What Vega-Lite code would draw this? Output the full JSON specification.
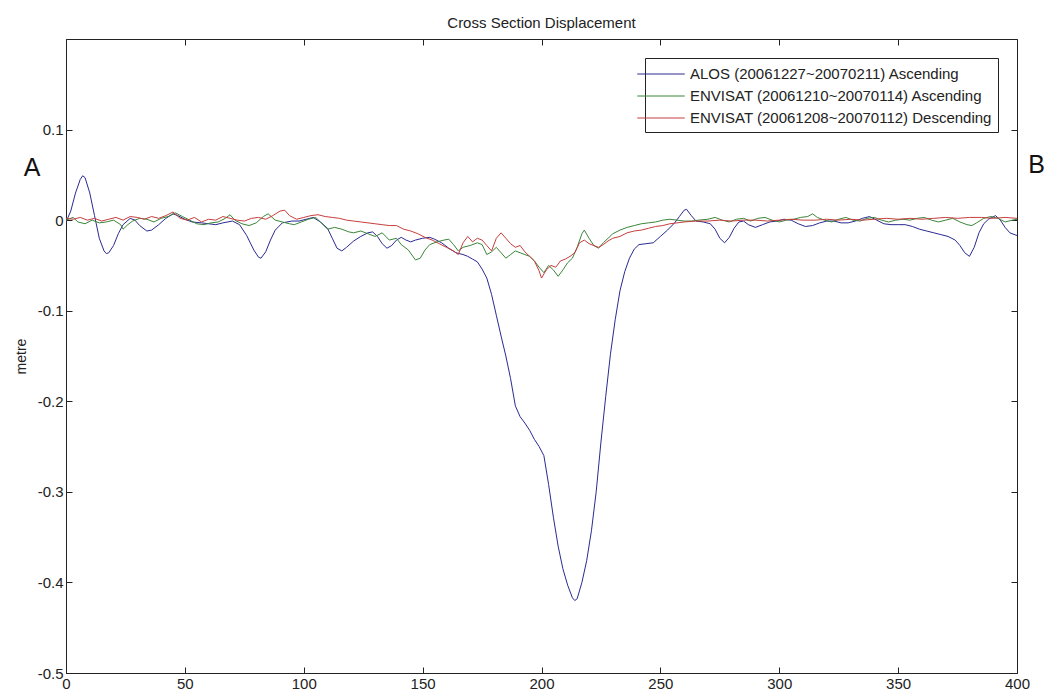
{
  "$schema": "https://vega.github.io/schema/vega-lite/v6.json",
  "width": 951,
  "height": 634,
  "autosize": {"type": "none"},
  "padding": {"left": 66, "top": 39, "right": 30, "bottom": 21},
  "background": "white",
  "title": {
    "text": "Cross Section Displacement",
    "font": "Liberation Sans",
    "fontSize": 15,
    "fontWeight": "normal",
    "color": "#222",
    "anchor": "middle",
    "offset": 8
  },
  "config": {
    "view": {"stroke": "#222", "strokeWidth": 1},
    "axis": {
      "labelFont": "Liberation Sans",
      "labelFontSize": 15,
      "labelColor": "#222",
      "titleFont": "Liberation Sans",
      "titleFontWeight": "normal",
      "titleColor": "#222",
      "tickColor": "#222",
      "tickWidth": 1,
      "domainColor": "#222",
      "grid": false
    }
  },
  "datasets": {
    "profiles": [
      {"series": "ALOS (20061227~20070211) Ascending", "x": 0, "y": -0.002},
      {"series": "ALOS (20061227~20070211) Ascending", "x": 2, "y": 0.01},
      {"series": "ALOS (20061227~20070211) Ascending", "x": 4, "y": 0.03},
      {"series": "ALOS (20061227~20070211) Ascending", "x": 6, "y": 0.045},
      {"series": "ALOS (20061227~20070211) Ascending", "x": 7, "y": 0.049},
      {"series": "ALOS (20061227~20070211) Ascending", "x": 8, "y": 0.047},
      {"series": "ALOS (20061227~20070211) Ascending", "x": 10, "y": 0.03},
      {"series": "ALOS (20061227~20070211) Ascending", "x": 12, "y": 0.005},
      {"series": "ALOS (20061227~20070211) Ascending", "x": 14, "y": -0.02},
      {"series": "ALOS (20061227~20070211) Ascending", "x": 16, "y": -0.034},
      {"series": "ALOS (20061227~20070211) Ascending", "x": 17, "y": -0.037},
      {"series": "ALOS (20061227~20070211) Ascending", "x": 18, "y": -0.036},
      {"series": "ALOS (20061227~20070211) Ascending", "x": 20, "y": -0.028},
      {"series": "ALOS (20061227~20070211) Ascending", "x": 22, "y": -0.015},
      {"series": "ALOS (20061227~20070211) Ascending", "x": 24, "y": -0.005},
      {"series": "ALOS (20061227~20070211) Ascending", "x": 27, "y": 0.002},
      {"series": "ALOS (20061227~20070211) Ascending", "x": 29, "y": 0.0},
      {"series": "ALOS (20061227~20070211) Ascending", "x": 31, "y": -0.006},
      {"series": "ALOS (20061227~20070211) Ascending", "x": 34, "y": -0.012},
      {"series": "ALOS (20061227~20070211) Ascending", "x": 36, "y": -0.011},
      {"series": "ALOS (20061227~20070211) Ascending", "x": 39, "y": -0.005},
      {"series": "ALOS (20061227~20070211) Ascending", "x": 42, "y": 0.002},
      {"series": "ALOS (20061227~20070211) Ascending", "x": 45, "y": 0.007},
      {"series": "ALOS (20061227~20070211) Ascending", "x": 47, "y": 0.005},
      {"series": "ALOS (20061227~20070211) Ascending", "x": 50, "y": 0.001},
      {"series": "ALOS (20061227~20070211) Ascending", "x": 53, "y": -0.002},
      {"series": "ALOS (20061227~20070211) Ascending", "x": 57, "y": -0.003},
      {"series": "ALOS (20061227~20070211) Ascending", "x": 60, "y": -0.004},
      {"series": "ALOS (20061227~20070211) Ascending", "x": 63, "y": -0.005},
      {"series": "ALOS (20061227~20070211) Ascending", "x": 66, "y": -0.003},
      {"series": "ALOS (20061227~20070211) Ascending", "x": 70, "y": -0.001},
      {"series": "ALOS (20061227~20070211) Ascending", "x": 73, "y": -0.005},
      {"series": "ALOS (20061227~20070211) Ascending", "x": 76, "y": -0.017},
      {"series": "ALOS (20061227~20070211) Ascending", "x": 79, "y": -0.033},
      {"series": "ALOS (20061227~20070211) Ascending", "x": 81, "y": -0.041},
      {"series": "ALOS (20061227~20070211) Ascending", "x": 82, "y": -0.042},
      {"series": "ALOS (20061227~20070211) Ascending", "x": 84, "y": -0.035},
      {"series": "ALOS (20061227~20070211) Ascending", "x": 86, "y": -0.022},
      {"series": "ALOS (20061227~20070211) Ascending", "x": 88, "y": -0.011},
      {"series": "ALOS (20061227~20070211) Ascending", "x": 91, "y": -0.003},
      {"series": "ALOS (20061227~20070211) Ascending", "x": 95, "y": -0.001},
      {"series": "ALOS (20061227~20070211) Ascending", "x": 98, "y": -0.001},
      {"series": "ALOS (20061227~20070211) Ascending", "x": 101, "y": 0.001},
      {"series": "ALOS (20061227~20070211) Ascending", "x": 104, "y": 0.003},
      {"series": "ALOS (20061227~20070211) Ascending", "x": 107, "y": -0.002},
      {"series": "ALOS (20061227~20070211) Ascending", "x": 110, "y": -0.009},
      {"series": "ALOS (20061227~20070211) Ascending", "x": 112, "y": -0.02},
      {"series": "ALOS (20061227~20070211) Ascending", "x": 114, "y": -0.031},
      {"series": "ALOS (20061227~20070211) Ascending", "x": 116, "y": -0.034},
      {"series": "ALOS (20061227~20070211) Ascending", "x": 118, "y": -0.03},
      {"series": "ALOS (20061227~20070211) Ascending", "x": 121, "y": -0.023},
      {"series": "ALOS (20061227~20070211) Ascending", "x": 124, "y": -0.018},
      {"series": "ALOS (20061227~20070211) Ascending", "x": 127, "y": -0.014},
      {"series": "ALOS (20061227~20070211) Ascending", "x": 129, "y": -0.013},
      {"series": "ALOS (20061227~20070211) Ascending", "x": 131, "y": -0.018},
      {"series": "ALOS (20061227~20070211) Ascending", "x": 133, "y": -0.026},
      {"series": "ALOS (20061227~20070211) Ascending", "x": 135, "y": -0.031},
      {"series": "ALOS (20061227~20070211) Ascending", "x": 137, "y": -0.028},
      {"series": "ALOS (20061227~20070211) Ascending", "x": 139, "y": -0.022},
      {"series": "ALOS (20061227~20070211) Ascending", "x": 141, "y": -0.019},
      {"series": "ALOS (20061227~20070211) Ascending", "x": 143, "y": -0.022},
      {"series": "ALOS (20061227~20070211) Ascending", "x": 145, "y": -0.024},
      {"series": "ALOS (20061227~20070211) Ascending", "x": 147, "y": -0.022},
      {"series": "ALOS (20061227~20070211) Ascending", "x": 150, "y": -0.02},
      {"series": "ALOS (20061227~20070211) Ascending", "x": 153, "y": -0.019},
      {"series": "ALOS (20061227~20070211) Ascending", "x": 155, "y": -0.021},
      {"series": "ALOS (20061227~20070211) Ascending", "x": 158, "y": -0.025},
      {"series": "ALOS (20061227~20070211) Ascending", "x": 161, "y": -0.031},
      {"series": "ALOS (20061227~20070211) Ascending", "x": 164, "y": -0.036},
      {"series": "ALOS (20061227~20070211) Ascending", "x": 167, "y": -0.038},
      {"series": "ALOS (20061227~20070211) Ascending", "x": 169, "y": -0.04},
      {"series": "ALOS (20061227~20070211) Ascending", "x": 171, "y": -0.043},
      {"series": "ALOS (20061227~20070211) Ascending", "x": 173, "y": -0.046},
      {"series": "ALOS (20061227~20070211) Ascending", "x": 175, "y": -0.054},
      {"series": "ALOS (20061227~20070211) Ascending", "x": 177, "y": -0.064},
      {"series": "ALOS (20061227~20070211) Ascending", "x": 179, "y": -0.082},
      {"series": "ALOS (20061227~20070211) Ascending", "x": 181, "y": -0.105},
      {"series": "ALOS (20061227~20070211) Ascending", "x": 183, "y": -0.128},
      {"series": "ALOS (20061227~20070211) Ascending", "x": 185, "y": -0.15},
      {"series": "ALOS (20061227~20070211) Ascending", "x": 187, "y": -0.175},
      {"series": "ALOS (20061227~20070211) Ascending", "x": 189, "y": -0.205},
      {"series": "ALOS (20061227~20070211) Ascending", "x": 191, "y": -0.217},
      {"series": "ALOS (20061227~20070211) Ascending", "x": 193, "y": -0.224},
      {"series": "ALOS (20061227~20070211) Ascending", "x": 195, "y": -0.232},
      {"series": "ALOS (20061227~20070211) Ascending", "x": 197, "y": -0.242},
      {"series": "ALOS (20061227~20070211) Ascending", "x": 199, "y": -0.25},
      {"series": "ALOS (20061227~20070211) Ascending", "x": 201, "y": -0.26},
      {"series": "ALOS (20061227~20070211) Ascending", "x": 203, "y": -0.292},
      {"series": "ALOS (20061227~20070211) Ascending", "x": 205, "y": -0.328},
      {"series": "ALOS (20061227~20070211) Ascending", "x": 207, "y": -0.36},
      {"series": "ALOS (20061227~20070211) Ascending", "x": 209, "y": -0.385},
      {"series": "ALOS (20061227~20070211) Ascending", "x": 211, "y": -0.403},
      {"series": "ALOS (20061227~20070211) Ascending", "x": 213, "y": -0.417},
      {"series": "ALOS (20061227~20070211) Ascending", "x": 214, "y": -0.42},
      {"series": "ALOS (20061227~20070211) Ascending", "x": 215, "y": -0.418},
      {"series": "ALOS (20061227~20070211) Ascending", "x": 217, "y": -0.4},
      {"series": "ALOS (20061227~20070211) Ascending", "x": 219, "y": -0.376},
      {"series": "ALOS (20061227~20070211) Ascending", "x": 221, "y": -0.343},
      {"series": "ALOS (20061227~20070211) Ascending", "x": 223, "y": -0.3},
      {"series": "ALOS (20061227~20070211) Ascending", "x": 225, "y": -0.245},
      {"series": "ALOS (20061227~20070211) Ascending", "x": 227, "y": -0.195},
      {"series": "ALOS (20061227~20070211) Ascending", "x": 229, "y": -0.148},
      {"series": "ALOS (20061227~20070211) Ascending", "x": 231, "y": -0.11},
      {"series": "ALOS (20061227~20070211) Ascending", "x": 233, "y": -0.078},
      {"series": "ALOS (20061227~20070211) Ascending", "x": 235, "y": -0.057},
      {"series": "ALOS (20061227~20070211) Ascending", "x": 237, "y": -0.042},
      {"series": "ALOS (20061227~20070211) Ascending", "x": 239, "y": -0.032},
      {"series": "ALOS (20061227~20070211) Ascending", "x": 241, "y": -0.027},
      {"series": "ALOS (20061227~20070211) Ascending", "x": 244, "y": -0.026},
      {"series": "ALOS (20061227~20070211) Ascending", "x": 247, "y": -0.025},
      {"series": "ALOS (20061227~20070211) Ascending", "x": 250, "y": -0.018},
      {"series": "ALOS (20061227~20070211) Ascending", "x": 253, "y": -0.011},
      {"series": "ALOS (20061227~20070211) Ascending", "x": 256, "y": -0.003},
      {"series": "ALOS (20061227~20070211) Ascending", "x": 258, "y": 0.004},
      {"series": "ALOS (20061227~20070211) Ascending", "x": 260, "y": 0.011},
      {"series": "ALOS (20061227~20070211) Ascending", "x": 261, "y": 0.012},
      {"series": "ALOS (20061227~20070211) Ascending", "x": 263, "y": 0.005},
      {"series": "ALOS (20061227~20070211) Ascending", "x": 265, "y": -0.001},
      {"series": "ALOS (20061227~20070211) Ascending", "x": 268, "y": -0.002},
      {"series": "ALOS (20061227~20070211) Ascending", "x": 271, "y": -0.004},
      {"series": "ALOS (20061227~20070211) Ascending", "x": 273, "y": -0.01},
      {"series": "ALOS (20061227~20070211) Ascending", "x": 275, "y": -0.02},
      {"series": "ALOS (20061227~20070211) Ascending", "x": 277, "y": -0.025},
      {"series": "ALOS (20061227~20070211) Ascending", "x": 279, "y": -0.019},
      {"series": "ALOS (20061227~20070211) Ascending", "x": 281, "y": -0.009},
      {"series": "ALOS (20061227~20070211) Ascending", "x": 283, "y": -0.002},
      {"series": "ALOS (20061227~20070211) Ascending", "x": 285, "y": -0.001},
      {"series": "ALOS (20061227~20070211) Ascending", "x": 287, "y": -0.005},
      {"series": "ALOS (20061227~20070211) Ascending", "x": 290, "y": -0.008},
      {"series": "ALOS (20061227~20070211) Ascending", "x": 293, "y": -0.005},
      {"series": "ALOS (20061227~20070211) Ascending", "x": 296, "y": -0.002},
      {"series": "ALOS (20061227~20070211) Ascending", "x": 299, "y": -0.001},
      {"series": "ALOS (20061227~20070211) Ascending", "x": 302, "y": 0.001},
      {"series": "ALOS (20061227~20070211) Ascending", "x": 305, "y": 0.0},
      {"series": "ALOS (20061227~20070211) Ascending", "x": 308, "y": -0.004},
      {"series": "ALOS (20061227~20070211) Ascending", "x": 311, "y": -0.007},
      {"series": "ALOS (20061227~20070211) Ascending", "x": 314, "y": -0.006},
      {"series": "ALOS (20061227~20070211) Ascending", "x": 317, "y": -0.003},
      {"series": "ALOS (20061227~20070211) Ascending", "x": 320, "y": -0.001},
      {"series": "ALOS (20061227~20070211) Ascending", "x": 323, "y": -0.001},
      {"series": "ALOS (20061227~20070211) Ascending", "x": 326, "y": -0.003},
      {"series": "ALOS (20061227~20070211) Ascending", "x": 329, "y": -0.003},
      {"series": "ALOS (20061227~20070211) Ascending", "x": 332, "y": -0.001},
      {"series": "ALOS (20061227~20070211) Ascending", "x": 335, "y": 0.002},
      {"series": "ALOS (20061227~20070211) Ascending", "x": 338, "y": 0.004},
      {"series": "ALOS (20061227~20070211) Ascending", "x": 341, "y": 0.0},
      {"series": "ALOS (20061227~20070211) Ascending", "x": 344, "y": -0.004},
      {"series": "ALOS (20061227~20070211) Ascending", "x": 347, "y": -0.005},
      {"series": "ALOS (20061227~20070211) Ascending", "x": 350, "y": -0.005},
      {"series": "ALOS (20061227~20070211) Ascending", "x": 353, "y": -0.005},
      {"series": "ALOS (20061227~20070211) Ascending", "x": 356, "y": -0.007},
      {"series": "ALOS (20061227~20070211) Ascending", "x": 359, "y": -0.01},
      {"series": "ALOS (20061227~20070211) Ascending", "x": 362, "y": -0.012},
      {"series": "ALOS (20061227~20070211) Ascending", "x": 365, "y": -0.014},
      {"series": "ALOS (20061227~20070211) Ascending", "x": 368, "y": -0.016},
      {"series": "ALOS (20061227~20070211) Ascending", "x": 371, "y": -0.018},
      {"series": "ALOS (20061227~20070211) Ascending", "x": 374, "y": -0.022},
      {"series": "ALOS (20061227~20070211) Ascending", "x": 376, "y": -0.028},
      {"series": "ALOS (20061227~20070211) Ascending", "x": 378, "y": -0.036},
      {"series": "ALOS (20061227~20070211) Ascending", "x": 380, "y": -0.04},
      {"series": "ALOS (20061227~20070211) Ascending", "x": 382, "y": -0.03},
      {"series": "ALOS (20061227~20070211) Ascending", "x": 384, "y": -0.014},
      {"series": "ALOS (20061227~20070211) Ascending", "x": 386, "y": -0.004},
      {"series": "ALOS (20061227~20070211) Ascending", "x": 388, "y": 0.001},
      {"series": "ALOS (20061227~20070211) Ascending", "x": 391, "y": 0.005},
      {"series": "ALOS (20061227~20070211) Ascending", "x": 393, "y": 0.0},
      {"series": "ALOS (20061227~20070211) Ascending", "x": 395, "y": -0.008},
      {"series": "ALOS (20061227~20070211) Ascending", "x": 397, "y": -0.014},
      {"series": "ALOS (20061227~20070211) Ascending", "x": 400, "y": -0.017},

      {"series": "ENVISAT (20061210~20070114) Ascending", "x": 0, "y": 0.0},
      {"series": "ENVISAT (20061210~20070114) Ascending", "x": 3, "y": 0.003},
      {"series": "ENVISAT (20061210~20070114) Ascending", "x": 5, "y": -0.002},
      {"series": "ENVISAT (20061210~20070114) Ascending", "x": 8, "y": -0.004},
      {"series": "ENVISAT (20061210~20070114) Ascending", "x": 11, "y": 0.0},
      {"series": "ENVISAT (20061210~20070114) Ascending", "x": 14, "y": -0.003},
      {"series": "ENVISAT (20061210~20070114) Ascending", "x": 17, "y": -0.002},
      {"series": "ENVISAT (20061210~20070114) Ascending", "x": 20, "y": 0.0},
      {"series": "ENVISAT (20061210~20070114) Ascending", "x": 23, "y": -0.005},
      {"series": "ENVISAT (20061210~20070114) Ascending", "x": 24, "y": -0.01},
      {"series": "ENVISAT (20061210~20070114) Ascending", "x": 26, "y": -0.005},
      {"series": "ENVISAT (20061210~20070114) Ascending", "x": 28, "y": -0.001},
      {"series": "ENVISAT (20061210~20070114) Ascending", "x": 31, "y": 0.002},
      {"series": "ENVISAT (20061210~20070114) Ascending", "x": 34, "y": 0.001},
      {"series": "ENVISAT (20061210~20070114) Ascending", "x": 37, "y": -0.002},
      {"series": "ENVISAT (20061210~20070114) Ascending", "x": 40, "y": 0.002},
      {"series": "ENVISAT (20061210~20070114) Ascending", "x": 43, "y": 0.004},
      {"series": "ENVISAT (20061210~20070114) Ascending", "x": 46, "y": 0.008},
      {"series": "ENVISAT (20061210~20070114) Ascending", "x": 49, "y": 0.004},
      {"series": "ENVISAT (20061210~20070114) Ascending", "x": 52, "y": 0.0},
      {"series": "ENVISAT (20061210~20070114) Ascending", "x": 55, "y": -0.004},
      {"series": "ENVISAT (20061210~20070114) Ascending", "x": 58, "y": -0.005},
      {"series": "ENVISAT (20061210~20070114) Ascending", "x": 61, "y": -0.003},
      {"series": "ENVISAT (20061210~20070114) Ascending", "x": 64, "y": -0.002},
      {"series": "ENVISAT (20061210~20070114) Ascending", "x": 67, "y": 0.002},
      {"series": "ENVISAT (20061210~20070114) Ascending", "x": 69, "y": 0.006},
      {"series": "ENVISAT (20061210~20070114) Ascending", "x": 71, "y": 0.0},
      {"series": "ENVISAT (20061210~20070114) Ascending", "x": 74, "y": -0.004},
      {"series": "ENVISAT (20061210~20070114) Ascending", "x": 77, "y": -0.006},
      {"series": "ENVISAT (20061210~20070114) Ascending", "x": 80, "y": -0.003},
      {"series": "ENVISAT (20061210~20070114) Ascending", "x": 83, "y": 0.004},
      {"series": "ENVISAT (20061210~20070114) Ascending", "x": 85, "y": 0.007},
      {"series": "ENVISAT (20061210~20070114) Ascending", "x": 88, "y": 0.0},
      {"series": "ENVISAT (20061210~20070114) Ascending", "x": 91, "y": -0.002},
      {"series": "ENVISAT (20061210~20070114) Ascending", "x": 94, "y": -0.004},
      {"series": "ENVISAT (20061210~20070114) Ascending", "x": 96, "y": -0.005},
      {"series": "ENVISAT (20061210~20070114) Ascending", "x": 99, "y": -0.002},
      {"series": "ENVISAT (20061210~20070114) Ascending", "x": 102, "y": 0.001},
      {"series": "ENVISAT (20061210~20070114) Ascending", "x": 105, "y": 0.003},
      {"series": "ENVISAT (20061210~20070114) Ascending", "x": 107, "y": -0.002},
      {"series": "ENVISAT (20061210~20070114) Ascending", "x": 110, "y": -0.01},
      {"series": "ENVISAT (20061210~20070114) Ascending", "x": 113, "y": -0.008},
      {"series": "ENVISAT (20061210~20070114) Ascending", "x": 116, "y": -0.01},
      {"series": "ENVISAT (20061210~20070114) Ascending", "x": 119, "y": -0.013},
      {"series": "ENVISAT (20061210~20070114) Ascending", "x": 121, "y": -0.014},
      {"series": "ENVISAT (20061210~20070114) Ascending", "x": 124, "y": -0.012},
      {"series": "ENVISAT (20061210~20070114) Ascending", "x": 127, "y": -0.015},
      {"series": "ENVISAT (20061210~20070114) Ascending", "x": 130, "y": -0.018},
      {"series": "ENVISAT (20061210~20070114) Ascending", "x": 133, "y": -0.014},
      {"series": "ENVISAT (20061210~20070114) Ascending", "x": 136, "y": -0.022},
      {"series": "ENVISAT (20061210~20070114) Ascending", "x": 139, "y": -0.02},
      {"series": "ENVISAT (20061210~20070114) Ascending", "x": 141, "y": -0.027},
      {"series": "ENVISAT (20061210~20070114) Ascending", "x": 144, "y": -0.033},
      {"series": "ENVISAT (20061210~20070114) Ascending", "x": 147, "y": -0.044},
      {"series": "ENVISAT (20061210~20070114) Ascending", "x": 149, "y": -0.042},
      {"series": "ENVISAT (20061210~20070114) Ascending", "x": 151, "y": -0.033},
      {"series": "ENVISAT (20061210~20070114) Ascending", "x": 153, "y": -0.027},
      {"series": "ENVISAT (20061210~20070114) Ascending", "x": 156, "y": -0.024},
      {"series": "ENVISAT (20061210~20070114) Ascending", "x": 159, "y": -0.022},
      {"series": "ENVISAT (20061210~20070114) Ascending", "x": 161, "y": -0.021},
      {"series": "ENVISAT (20061210~20070114) Ascending", "x": 163, "y": -0.027},
      {"series": "ENVISAT (20061210~20070114) Ascending", "x": 165, "y": -0.034},
      {"series": "ENVISAT (20061210~20070114) Ascending", "x": 167, "y": -0.03},
      {"series": "ENVISAT (20061210~20070114) Ascending", "x": 170, "y": -0.028},
      {"series": "ENVISAT (20061210~20070114) Ascending", "x": 173, "y": -0.025},
      {"series": "ENVISAT (20061210~20070114) Ascending", "x": 175, "y": -0.027},
      {"series": "ENVISAT (20061210~20070114) Ascending", "x": 177, "y": -0.038},
      {"series": "ENVISAT (20061210~20070114) Ascending", "x": 179, "y": -0.035},
      {"series": "ENVISAT (20061210~20070114) Ascending", "x": 181, "y": -0.03},
      {"series": "ENVISAT (20061210~20070114) Ascending", "x": 183, "y": -0.036},
      {"series": "ENVISAT (20061210~20070114) Ascending", "x": 185, "y": -0.042},
      {"series": "ENVISAT (20061210~20070114) Ascending", "x": 187, "y": -0.038},
      {"series": "ENVISAT (20061210~20070114) Ascending", "x": 189, "y": -0.034},
      {"series": "ENVISAT (20061210~20070114) Ascending", "x": 191, "y": -0.036},
      {"series": "ENVISAT (20061210~20070114) Ascending", "x": 193, "y": -0.038},
      {"series": "ENVISAT (20061210~20070114) Ascending", "x": 195, "y": -0.04},
      {"series": "ENVISAT (20061210~20070114) Ascending", "x": 197, "y": -0.045},
      {"series": "ENVISAT (20061210~20070114) Ascending", "x": 199, "y": -0.052},
      {"series": "ENVISAT (20061210~20070114) Ascending", "x": 201, "y": -0.058},
      {"series": "ENVISAT (20061210~20070114) Ascending", "x": 203, "y": -0.05},
      {"series": "ENVISAT (20061210~20070114) Ascending", "x": 205, "y": -0.055},
      {"series": "ENVISAT (20061210~20070114) Ascending", "x": 207, "y": -0.062},
      {"series": "ENVISAT (20061210~20070114) Ascending", "x": 209, "y": -0.055},
      {"series": "ENVISAT (20061210~20070114) Ascending", "x": 211, "y": -0.047},
      {"series": "ENVISAT (20061210~20070114) Ascending", "x": 213, "y": -0.042},
      {"series": "ENVISAT (20061210~20070114) Ascending", "x": 215, "y": -0.03},
      {"series": "ENVISAT (20061210~20070114) Ascending", "x": 217, "y": -0.015},
      {"series": "ENVISAT (20061210~20070114) Ascending", "x": 218, "y": -0.011},
      {"series": "ENVISAT (20061210~20070114) Ascending", "x": 220, "y": -0.02},
      {"series": "ENVISAT (20061210~20070114) Ascending", "x": 222, "y": -0.028},
      {"series": "ENVISAT (20061210~20070114) Ascending", "x": 224, "y": -0.031},
      {"series": "ENVISAT (20061210~20070114) Ascending", "x": 226, "y": -0.025},
      {"series": "ENVISAT (20061210~20070114) Ascending", "x": 228, "y": -0.02},
      {"series": "ENVISAT (20061210~20070114) Ascending", "x": 230, "y": -0.015},
      {"series": "ENVISAT (20061210~20070114) Ascending", "x": 233, "y": -0.011},
      {"series": "ENVISAT (20061210~20070114) Ascending", "x": 236, "y": -0.008},
      {"series": "ENVISAT (20061210~20070114) Ascending", "x": 239, "y": -0.006},
      {"series": "ENVISAT (20061210~20070114) Ascending", "x": 242, "y": -0.004},
      {"series": "ENVISAT (20061210~20070114) Ascending", "x": 245, "y": -0.003},
      {"series": "ENVISAT (20061210~20070114) Ascending", "x": 248, "y": -0.002},
      {"series": "ENVISAT (20061210~20070114) Ascending", "x": 251, "y": 0.0},
      {"series": "ENVISAT (20061210~20070114) Ascending", "x": 254, "y": 0.001},
      {"series": "ENVISAT (20061210~20070114) Ascending", "x": 257, "y": 0.0},
      {"series": "ENVISAT (20061210~20070114) Ascending", "x": 260, "y": -0.001},
      {"series": "ENVISAT (20061210~20070114) Ascending", "x": 263, "y": -0.001},
      {"series": "ENVISAT (20061210~20070114) Ascending", "x": 266, "y": 0.0},
      {"series": "ENVISAT (20061210~20070114) Ascending", "x": 270, "y": 0.001},
      {"series": "ENVISAT (20061210~20070114) Ascending", "x": 273, "y": 0.003},
      {"series": "ENVISAT (20061210~20070114) Ascending", "x": 276, "y": 0.0},
      {"series": "ENVISAT (20061210~20070114) Ascending", "x": 279, "y": -0.002},
      {"series": "ENVISAT (20061210~20070114) Ascending", "x": 282, "y": 0.001},
      {"series": "ENVISAT (20061210~20070114) Ascending", "x": 285, "y": 0.002},
      {"series": "ENVISAT (20061210~20070114) Ascending", "x": 288, "y": -0.001},
      {"series": "ENVISAT (20061210~20070114) Ascending", "x": 291, "y": 0.002},
      {"series": "ENVISAT (20061210~20070114) Ascending", "x": 294, "y": 0.003},
      {"series": "ENVISAT (20061210~20070114) Ascending", "x": 297, "y": 0.0},
      {"series": "ENVISAT (20061210~20070114) Ascending", "x": 300, "y": -0.002},
      {"series": "ENVISAT (20061210~20070114) Ascending", "x": 303, "y": 0.0},
      {"series": "ENVISAT (20061210~20070114) Ascending", "x": 306, "y": 0.001},
      {"series": "ENVISAT (20061210~20070114) Ascending", "x": 309, "y": 0.003},
      {"series": "ENVISAT (20061210~20070114) Ascending", "x": 312, "y": 0.004},
      {"series": "ENVISAT (20061210~20070114) Ascending", "x": 314, "y": 0.007},
      {"series": "ENVISAT (20061210~20070114) Ascending", "x": 316, "y": 0.003},
      {"series": "ENVISAT (20061210~20070114) Ascending", "x": 319, "y": 0.0},
      {"series": "ENVISAT (20061210~20070114) Ascending", "x": 322, "y": -0.002},
      {"series": "ENVISAT (20061210~20070114) Ascending", "x": 325, "y": 0.001},
      {"series": "ENVISAT (20061210~20070114) Ascending", "x": 328, "y": 0.003},
      {"series": "ENVISAT (20061210~20070114) Ascending", "x": 331, "y": 0.0},
      {"series": "ENVISAT (20061210~20070114) Ascending", "x": 334, "y": -0.001},
      {"series": "ENVISAT (20061210~20070114) Ascending", "x": 337, "y": 0.002},
      {"series": "ENVISAT (20061210~20070114) Ascending", "x": 340, "y": 0.003},
      {"series": "ENVISAT (20061210~20070114) Ascending", "x": 343, "y": 0.0},
      {"series": "ENVISAT (20061210~20070114) Ascending", "x": 346, "y": -0.002},
      {"series": "ENVISAT (20061210~20070114) Ascending", "x": 349, "y": 0.0},
      {"series": "ENVISAT (20061210~20070114) Ascending", "x": 352, "y": 0.001},
      {"series": "ENVISAT (20061210~20070114) Ascending", "x": 355, "y": 0.0},
      {"series": "ENVISAT (20061210~20070114) Ascending", "x": 358, "y": 0.002},
      {"series": "ENVISAT (20061210~20070114) Ascending", "x": 361, "y": 0.003},
      {"series": "ENVISAT (20061210~20070114) Ascending", "x": 364, "y": 0.0},
      {"series": "ENVISAT (20061210~20070114) Ascending", "x": 367, "y": -0.002},
      {"series": "ENVISAT (20061210~20070114) Ascending", "x": 370, "y": 0.0},
      {"series": "ENVISAT (20061210~20070114) Ascending", "x": 373, "y": 0.002},
      {"series": "ENVISAT (20061210~20070114) Ascending", "x": 376, "y": -0.002},
      {"series": "ENVISAT (20061210~20070114) Ascending", "x": 379, "y": -0.005},
      {"series": "ENVISAT (20061210~20070114) Ascending", "x": 381, "y": -0.006},
      {"series": "ENVISAT (20061210~20070114) Ascending", "x": 383, "y": -0.003},
      {"series": "ENVISAT (20061210~20070114) Ascending", "x": 386, "y": 0.002},
      {"series": "ENVISAT (20061210~20070114) Ascending", "x": 389, "y": 0.004},
      {"series": "ENVISAT (20061210~20070114) Ascending", "x": 392, "y": 0.002},
      {"series": "ENVISAT (20061210~20070114) Ascending", "x": 395, "y": -0.002},
      {"series": "ENVISAT (20061210~20070114) Ascending", "x": 398, "y": 0.0},
      {"series": "ENVISAT (20061210~20070114) Ascending", "x": 400, "y": 0.001},

      {"series": "ENVISAT (20061208~20070112) Descending", "x": 0, "y": 0.002},
      {"series": "ENVISAT (20061208~20070112) Descending", "x": 3, "y": 0.001},
      {"series": "ENVISAT (20061208~20070112) Descending", "x": 6, "y": 0.003},
      {"series": "ENVISAT (20061208~20070112) Descending", "x": 9, "y": 0.0},
      {"series": "ENVISAT (20061208~20070112) Descending", "x": 12, "y": 0.002},
      {"series": "ENVISAT (20061208~20070112) Descending", "x": 15, "y": -0.001},
      {"series": "ENVISAT (20061208~20070112) Descending", "x": 18, "y": 0.001},
      {"series": "ENVISAT (20061208~20070112) Descending", "x": 21, "y": 0.003},
      {"series": "ENVISAT (20061208~20070112) Descending", "x": 24, "y": 0.0},
      {"series": "ENVISAT (20061208~20070112) Descending", "x": 27, "y": 0.004},
      {"series": "ENVISAT (20061208~20070112) Descending", "x": 30, "y": 0.003},
      {"series": "ENVISAT (20061208~20070112) Descending", "x": 33, "y": 0.001},
      {"series": "ENVISAT (20061208~20070112) Descending", "x": 36, "y": 0.004},
      {"series": "ENVISAT (20061208~20070112) Descending", "x": 39, "y": 0.002},
      {"series": "ENVISAT (20061208~20070112) Descending", "x": 42, "y": 0.005},
      {"series": "ENVISAT (20061208~20070112) Descending", "x": 45, "y": 0.009},
      {"series": "ENVISAT (20061208~20070112) Descending", "x": 48, "y": 0.002},
      {"series": "ENVISAT (20061208~20070112) Descending", "x": 51, "y": 0.0},
      {"series": "ENVISAT (20061208~20070112) Descending", "x": 54, "y": 0.003},
      {"series": "ENVISAT (20061208~20070112) Descending", "x": 57, "y": -0.002},
      {"series": "ENVISAT (20061208~20070112) Descending", "x": 60, "y": 0.001},
      {"series": "ENVISAT (20061208~20070112) Descending", "x": 63, "y": 0.0},
      {"series": "ENVISAT (20061208~20070112) Descending", "x": 66, "y": 0.004},
      {"series": "ENVISAT (20061208~20070112) Descending", "x": 69, "y": 0.002},
      {"series": "ENVISAT (20061208~20070112) Descending", "x": 72, "y": 0.0},
      {"series": "ENVISAT (20061208~20070112) Descending", "x": 75, "y": -0.001},
      {"series": "ENVISAT (20061208~20070112) Descending", "x": 78, "y": 0.002},
      {"series": "ENVISAT (20061208~20070112) Descending", "x": 81, "y": 0.003},
      {"series": "ENVISAT (20061208~20070112) Descending", "x": 84, "y": 0.001},
      {"series": "ENVISAT (20061208~20070112) Descending", "x": 87, "y": 0.005},
      {"series": "ENVISAT (20061208~20070112) Descending", "x": 90, "y": 0.01},
      {"series": "ENVISAT (20061208~20070112) Descending", "x": 92, "y": 0.011},
      {"series": "ENVISAT (20061208~20070112) Descending", "x": 94, "y": 0.005},
      {"series": "ENVISAT (20061208~20070112) Descending", "x": 97, "y": 0.001},
      {"series": "ENVISAT (20061208~20070112) Descending", "x": 100, "y": 0.003},
      {"series": "ENVISAT (20061208~20070112) Descending", "x": 103, "y": 0.005},
      {"series": "ENVISAT (20061208~20070112) Descending", "x": 106, "y": 0.006},
      {"series": "ENVISAT (20061208~20070112) Descending", "x": 109, "y": 0.004},
      {"series": "ENVISAT (20061208~20070112) Descending", "x": 112, "y": 0.003},
      {"series": "ENVISAT (20061208~20070112) Descending", "x": 115, "y": 0.002},
      {"series": "ENVISAT (20061208~20070112) Descending", "x": 118, "y": 0.0},
      {"series": "ENVISAT (20061208~20070112) Descending", "x": 121, "y": -0.001},
      {"series": "ENVISAT (20061208~20070112) Descending", "x": 124, "y": -0.002},
      {"series": "ENVISAT (20061208~20070112) Descending", "x": 127, "y": -0.003},
      {"series": "ENVISAT (20061208~20070112) Descending", "x": 130, "y": -0.004},
      {"series": "ENVISAT (20061208~20070112) Descending", "x": 133, "y": -0.005},
      {"series": "ENVISAT (20061208~20070112) Descending", "x": 136, "y": -0.006},
      {"series": "ENVISAT (20061208~20070112) Descending", "x": 139, "y": -0.006},
      {"series": "ENVISAT (20061208~20070112) Descending", "x": 142, "y": -0.01},
      {"series": "ENVISAT (20061208~20070112) Descending", "x": 145, "y": -0.012},
      {"series": "ENVISAT (20061208~20070112) Descending", "x": 148, "y": -0.015},
      {"series": "ENVISAT (20061208~20070112) Descending", "x": 151, "y": -0.019},
      {"series": "ENVISAT (20061208~20070112) Descending", "x": 154, "y": -0.022},
      {"series": "ENVISAT (20061208~20070112) Descending", "x": 157, "y": -0.026},
      {"series": "ENVISAT (20061208~20070112) Descending", "x": 160, "y": -0.03},
      {"series": "ENVISAT (20061208~20070112) Descending", "x": 163, "y": -0.034},
      {"series": "ENVISAT (20061208~20070112) Descending", "x": 165, "y": -0.038},
      {"series": "ENVISAT (20061208~20070112) Descending", "x": 167, "y": -0.025},
      {"series": "ENVISAT (20061208~20070112) Descending", "x": 169, "y": -0.018},
      {"series": "ENVISAT (20061208~20070112) Descending", "x": 171, "y": -0.024},
      {"series": "ENVISAT (20061208~20070112) Descending", "x": 173, "y": -0.02},
      {"series": "ENVISAT (20061208~20070112) Descending", "x": 175, "y": -0.022},
      {"series": "ENVISAT (20061208~20070112) Descending", "x": 177, "y": -0.028},
      {"series": "ENVISAT (20061208~20070112) Descending", "x": 179, "y": -0.034},
      {"series": "ENVISAT (20061208~20070112) Descending", "x": 181, "y": -0.02},
      {"series": "ENVISAT (20061208~20070112) Descending", "x": 183, "y": -0.014},
      {"series": "ENVISAT (20061208~20070112) Descending", "x": 185, "y": -0.02},
      {"series": "ENVISAT (20061208~20070112) Descending", "x": 187, "y": -0.026},
      {"series": "ENVISAT (20061208~20070112) Descending", "x": 189, "y": -0.03},
      {"series": "ENVISAT (20061208~20070112) Descending", "x": 191, "y": -0.028},
      {"series": "ENVISAT (20061208~20070112) Descending", "x": 193, "y": -0.035},
      {"series": "ENVISAT (20061208~20070112) Descending", "x": 195, "y": -0.04},
      {"series": "ENVISAT (20061208~20070112) Descending", "x": 197, "y": -0.045},
      {"series": "ENVISAT (20061208~20070112) Descending", "x": 199, "y": -0.056},
      {"series": "ENVISAT (20061208~20070112) Descending", "x": 200, "y": -0.064},
      {"series": "ENVISAT (20061208~20070112) Descending", "x": 202, "y": -0.055},
      {"series": "ENVISAT (20061208~20070112) Descending", "x": 204, "y": -0.05},
      {"series": "ENVISAT (20061208~20070112) Descending", "x": 206, "y": -0.052},
      {"series": "ENVISAT (20061208~20070112) Descending", "x": 208, "y": -0.045},
      {"series": "ENVISAT (20061208~20070112) Descending", "x": 210, "y": -0.043},
      {"series": "ENVISAT (20061208~20070112) Descending", "x": 212, "y": -0.04},
      {"series": "ENVISAT (20061208~20070112) Descending", "x": 214, "y": -0.036},
      {"series": "ENVISAT (20061208~20070112) Descending", "x": 216, "y": -0.025},
      {"series": "ENVISAT (20061208~20070112) Descending", "x": 218, "y": -0.022},
      {"series": "ENVISAT (20061208~20070112) Descending", "x": 220, "y": -0.026},
      {"series": "ENVISAT (20061208~20070112) Descending", "x": 222, "y": -0.028},
      {"series": "ENVISAT (20061208~20070112) Descending", "x": 224, "y": -0.03},
      {"series": "ENVISAT (20061208~20070112) Descending", "x": 226, "y": -0.027},
      {"series": "ENVISAT (20061208~20070112) Descending", "x": 228, "y": -0.023},
      {"series": "ENVISAT (20061208~20070112) Descending", "x": 230, "y": -0.02},
      {"series": "ENVISAT (20061208~20070112) Descending", "x": 233, "y": -0.018},
      {"series": "ENVISAT (20061208~20070112) Descending", "x": 236, "y": -0.014},
      {"series": "ENVISAT (20061208~20070112) Descending", "x": 239, "y": -0.012},
      {"series": "ENVISAT (20061208~20070112) Descending", "x": 242, "y": -0.011},
      {"series": "ENVISAT (20061208~20070112) Descending", "x": 245, "y": -0.009},
      {"series": "ENVISAT (20061208~20070112) Descending", "x": 248, "y": -0.007},
      {"series": "ENVISAT (20061208~20070112) Descending", "x": 251, "y": -0.006},
      {"series": "ENVISAT (20061208~20070112) Descending", "x": 254, "y": -0.004},
      {"series": "ENVISAT (20061208~20070112) Descending", "x": 257, "y": -0.003},
      {"series": "ENVISAT (20061208~20070112) Descending", "x": 260, "y": -0.002},
      {"series": "ENVISAT (20061208~20070112) Descending", "x": 265, "y": -0.001},
      {"series": "ENVISAT (20061208~20070112) Descending", "x": 270, "y": -0.001},
      {"series": "ENVISAT (20061208~20070112) Descending", "x": 275, "y": 0.0},
      {"series": "ENVISAT (20061208~20070112) Descending", "x": 280, "y": -0.001},
      {"series": "ENVISAT (20061208~20070112) Descending", "x": 285, "y": 0.0},
      {"series": "ENVISAT (20061208~20070112) Descending", "x": 290, "y": 0.0},
      {"series": "ENVISAT (20061208~20070112) Descending", "x": 295, "y": -0.001},
      {"series": "ENVISAT (20061208~20070112) Descending", "x": 300, "y": 0.0},
      {"series": "ENVISAT (20061208~20070112) Descending", "x": 305, "y": 0.001},
      {"series": "ENVISAT (20061208~20070112) Descending", "x": 310, "y": 0.0},
      {"series": "ENVISAT (20061208~20070112) Descending", "x": 315, "y": 0.0},
      {"series": "ENVISAT (20061208~20070112) Descending", "x": 320, "y": 0.001},
      {"series": "ENVISAT (20061208~20070112) Descending", "x": 325, "y": 0.0},
      {"series": "ENVISAT (20061208~20070112) Descending", "x": 330, "y": 0.001},
      {"series": "ENVISAT (20061208~20070112) Descending", "x": 335, "y": 0.0},
      {"series": "ENVISAT (20061208~20070112) Descending", "x": 340, "y": 0.001},
      {"series": "ENVISAT (20061208~20070112) Descending", "x": 345, "y": 0.002},
      {"series": "ENVISAT (20061208~20070112) Descending", "x": 350, "y": 0.001},
      {"series": "ENVISAT (20061208~20070112) Descending", "x": 355, "y": 0.002},
      {"series": "ENVISAT (20061208~20070112) Descending", "x": 360, "y": 0.001},
      {"series": "ENVISAT (20061208~20070112) Descending", "x": 365, "y": 0.002},
      {"series": "ENVISAT (20061208~20070112) Descending", "x": 370, "y": 0.003},
      {"series": "ENVISAT (20061208~20070112) Descending", "x": 375, "y": 0.002},
      {"series": "ENVISAT (20061208~20070112) Descending", "x": 380, "y": 0.003},
      {"series": "ENVISAT (20061208~20070112) Descending", "x": 385, "y": 0.003},
      {"series": "ENVISAT (20061208~20070112) Descending", "x": 390, "y": 0.002},
      {"series": "ENVISAT (20061208~20070112) Descending", "x": 395, "y": 0.003},
      {"series": "ENVISAT (20061208~20070112) Descending", "x": 400, "y": 0.002}
    ],
    "endpoints": [
      {"label": "A", "x": -14.3, "y": 0.058},
      {"label": "B", "x": 408.2, "y": 0.061}
    ]
  },
  "layer": [
    {
      "data": {"name": "profiles"},
      "mark": {"type": "line", "strokeWidth": 1, "interpolate": "linear", "clip": true},
      "encoding": {
        "x": {
          "field": "x",
          "type": "quantitative",
          "scale": {"domain": [0, 400], "nice": false, "zero": false},
          "axis": {
            "title": null,
            "values": [0, 50, 100, 150, 200, 250, 300, 350, 400],
            "tickSize": -6,
            "labelPadding": 9,
            "labelFlush": false
          }
        },
        "y": {
          "field": "y",
          "type": "quantitative",
          "scale": {"domain": [-0.5, 0.2], "nice": false, "zero": false},
          "axis": {
            "title": "metre",
            "titleFontSize": 14,
            "titlePadding": 9,
            "values": [-0.5, -0.4, -0.3, -0.2, -0.1, 0, 0.1],
            "labelExpr": "datum.value == 0 ? '0' : (datum.value < 0 ? '-' + format(-datum.value, '.1f') : format(datum.value, '.1f'))",
            "tickSize": -6,
            "labelPadding": 9
          }
        },
        "color": {
          "field": "series",
          "type": "nominal",
          "sort": [
            "ALOS (20061227~20070211) Ascending",
            "ENVISAT (20061210~20070114) Ascending",
            "ENVISAT (20061208~20070112) Descending"
          ],
          "scale": {
            "domain": [
              "ALOS (20061227~20070211) Ascending",
              "ENVISAT (20061210~20070114) Ascending",
              "ENVISAT (20061208~20070112) Descending"
            ],
            "range": ["#2a2a92", "#3a863a", "#c63e3e"]
          },
          "legend": {
            "title": null,
            "orient": "none",
            "legendX": 579,
            "legendY": 19,
            "strokeColor": "#222",
            "fillColor": "#ffffff",
            "padding": 6,
            "symbolType": "M-2.5,0H2.5",
            "symbolSize": 361,
            "symbolStrokeWidth": 1,
            "labelFont": "Liberation Sans",
            "labelFontSize": 15,
            "labelColor": "#222",
            "labelOffset": 19,
            "rowPadding": 4,
            "labelLimit": 400
          }
        }
      }
    },
    {
      "data": {"name": "endpoints"},
      "mark": {"type": "text", "font": "Liberation Sans", "fontSize": 25, "color": "#111", "align": "center", "baseline": "middle"},
      "encoding": {
        "x": {
          "field": "x",
          "type": "quantitative",
          "axis": {
            "orient": "top",
            "title": null,
            "labels": false,
            "domain": false,
            "values": [0, 50, 100, 150, 200, 250, 300, 350, 400],
            "tickSize": -6
          }
        },
        "y": {
          "field": "y",
          "type": "quantitative",
          "axis": {
            "orient": "right",
            "title": null,
            "labels": false,
            "domain": false,
            "values": [-0.5, -0.4, -0.3, -0.2, -0.1, 0, 0.1],
            "tickSize": -6
          }
        },
        "text": {"field": "label"}
      }
    }
  ],
  "resolve": {"axis": {"x": "independent", "y": "independent"}}
}
